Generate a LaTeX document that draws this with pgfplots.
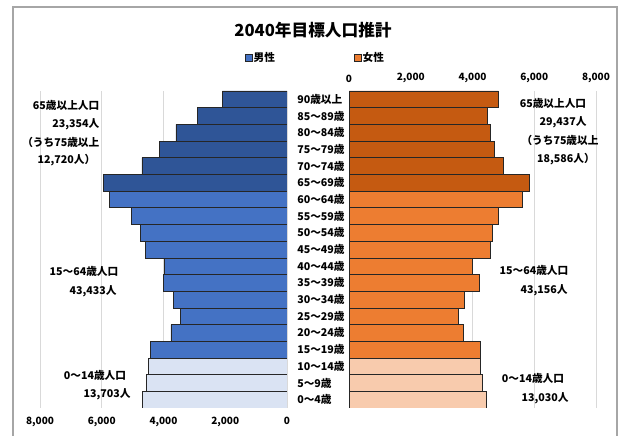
\documentclass[border=0pt]{standalone}
\usepackage{pgfplots}
\pgfplotsset{compat=1.18}
\usepackage{fontspec}
\setmainfont{Noto Sans CJK JP}

\definecolor{mdark}{HTML}{2F5597}
\definecolor{mmid}{HTML}{4472C4}
\definecolor{mlight}{HTML}{DAE3F3}
\definecolor{fdark}{HTML}{C55A11}
\definecolor{fmid}{HTML}{ED7D31}
\definecolor{flight}{HTML}{F8CBAD}
\definecolor{gridgray}{HTML}{D9D9D9}
\definecolor{framegray}{HTML}{A6A6A6}
\definecolor{barline}{HTML}{262626}

\newcommand\tickfont{\fontsize{7.5pt}{9pt}\selectfont\bfseries}
\newcommand\notefont{\fontsize{8pt}{9.5pt}\selectfont\bfseries}

\pgfplotsset{
  pyramid/.style={
    width=185.25pt, height=237.75pt, scale only axis,
    xmin=0, xmax=8000, ymin=-0.5, ymax=18.5,
    xtick={0,2000,4000,6000,8000},
    xmajorgrids, grid style={draw=gridgray, line width=0.6pt},
    major tick length=0pt,
    axis line style={draw=none},
    xticklabel style={font=\tickfont},
    /pgf/number format/1000 sep={,},
    /pgf/number format/assume math mode=true,
    legend style={draw=none, fill=none, font=\notefont, inner sep=0pt,
      nodes={inner sep=1pt}},
  },
  pbar/.style={xbar, bar width=1, bar shift=0pt, draw=barline, line width=0.5pt,
    legend image code/.code={\draw[##1, line width=0.5pt] (0pt,-2.4pt) rectangle (4.8pt,2.4pt);}},
}

\begin{document}
\begin{tikzpicture}[x=0.75pt, y=0.75pt]
\useasboundingbox (0,0) rectangle (619,436);

% outer chart frame
\draw[framegray, line width=1pt] (13,0) -- (13,429) -- (617,429) -- (617,0);

% title
\node[font=\fontsize{12.5pt}{14pt}\selectfont\bfseries] at (313,406) {2040年目標人口推計};

% male side
\begin{axis}[pyramid,
  at={(30pt,21pt)}, anchor=south west,
  x dir=reverse, ytick=\empty,
  xticklabel style={yshift=-3pt},
  legend style={at={(0.83,1.104)}, anchor=west},
]
\addplot[pbar, fill=mlight, forget plot] coordinates {
  (4683,0) (4540,1) (4480,2)};
\addplot[pbar, fill=mmid] coordinates {
  (4430,3) (3760,4) (3450,5) (3680,6) (3990,7)
  (3980,8) (4590,9) (4760,10) (5043,11) (5750,12)};
\addlegendentry{男性}
\addplot[pbar, fill=mdark, forget plot] coordinates {
  (5934,13) (4700,14) (4130,15) (3600,16) (2900,17) (2090,18)};
\end{axis}

% female side
\begin{axis}[pyramid,
  at={(261.75pt,21pt)}, anchor=south west,
  xticklabel pos=upper,
  xticklabel style={yshift=3pt},
  ytick={0,...,18},
  yticklabels={0～4歳,5～9歳,10～14歳,15～19歳,20～24歳,25～29歳,30～34歳,
    35～39歳,40～44歳,45～49歳,50～54歳,55～59歳,60～64歳,65～69歳,
    70～74歳,75～79歳,80～84歳,85～89歳,90歳以上},
  yticklabel style={anchor=west, xshift=-39pt, inner xsep=0pt, font=\notefont},
  legend style={at={(0.02,1.104)}, anchor=west},
]
\addplot[pbar, fill=flight, forget plot] coordinates {
  (4440,0) (4330,1) (4260,2)};
\addplot[pbar, fill=fmid] coordinates {
  (4240,3) (3700,4) (3550,5) (3750,6) (4220,7)
  (4000,8) (4580,9) (4646,10) (4850,11) (5620,12)};
\addlegendentry{女性}
\addplot[pbar, fill=fdark, forget plot] coordinates {
  (5841,13) (5010,14) (4700,15) (4576,16) (4470,17) (4840,18)};
\end{axis}

% group totals, male
\begin{scope}[every node/.style={font=\notefont}]
\node[anchor=east] at (104,331) {65歳以上人口};
\node[anchor=east] at (104,312) {23,354人};
\node[anchor=east] at (104,294) {（うち75歳以上};
\node[anchor=east] at (100,276) {12,720人）};
\node at (84,165) {15～64歳人口};
\node at (93,145) {43,433人};
\node at (95,61) {0～14歳人口};
\node at (107,42) {13,703人};
% group totals, female
\node at (553,333) {65歳以上人口};
\node at (563,314) {29,437人};
\node at (560,296) {（うち75歳以上};
\node at (566,277) {18,586人）};
\node at (534,166) {15～64歳人口};
\node at (544,146) {43,156人};
\node at (533,58) {0～14歳人口};
\node at (545,38) {13,030人};
\end{scope}
\end{tikzpicture}
\end{document}
